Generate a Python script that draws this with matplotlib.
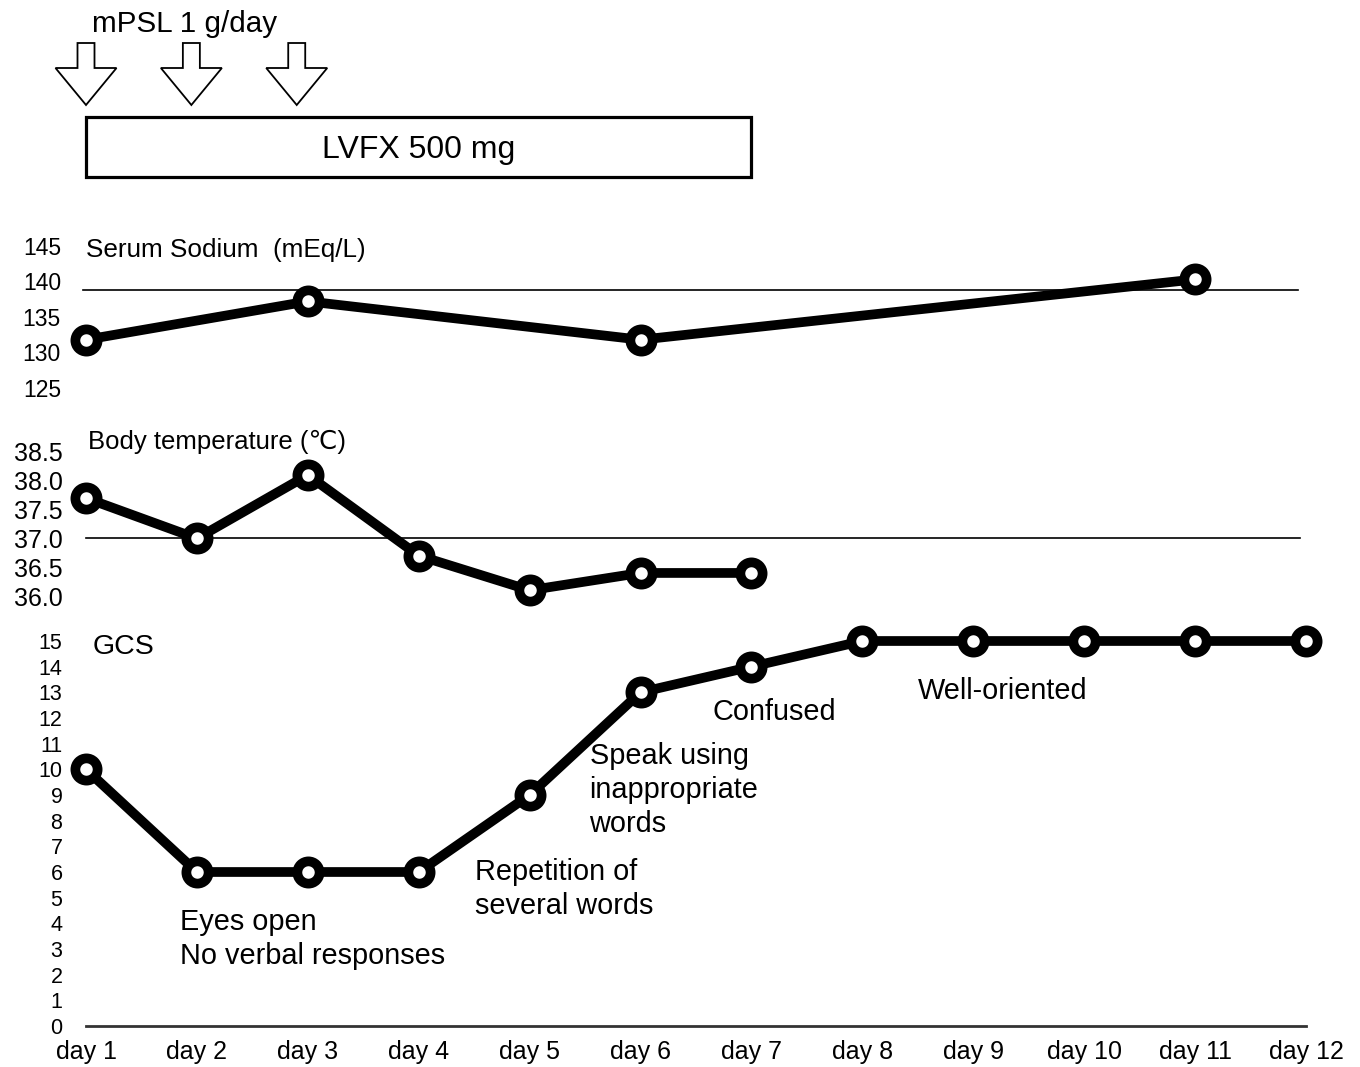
import matplotlib
matplotlib.use('Agg')
import matplotlib.pyplot as plt
from matplotlib.patches import Polygon, Rectangle

plt.rcParams['font.family'] = ['Liberation Sans', 'DejaVu Sans']

# data
day_labels = ['day %d' % d for d in range(1, 13)]

sodium_days = [1, 3, 6, 11]
sodium_vals = [131.8, 137.2, 131.8, 140.3]
sodium_ref = 138.8

temp_days = [1, 2, 3, 4, 5, 6, 7]
temp_vals = [37.7, 37.0, 38.1, 36.7, 36.1, 36.4, 36.4]
temp_ref = 37.0

gcs_days = [1, 2, 3, 4, 5, 6, 7, 8, 9, 10, 11, 12]
gcs_vals = [10, 6, 6, 6, 9, 13, 14, 15, 15, 15, 15, 15]

mpsl_days = [1, 1.95, 2.9]
lvfx_start, lvfx_end = 1, 7

# (text, day, gcs value at block centre)
gcs_notes = [
    ('Eyes open\nNo verbal responses', 1.85, 3.40),
    ('Repetition of\nseveral words', 4.51, 5.34),
    ('Speak using\ninappropriate\nwords', 5.54, 9.20),
    ('Confused', 6.65, 12.25),
    ('Well-oriented', 8.50, 13.07),
]

W, H = 1360, 1067
fig = plt.figure(figsize=(W / 100, H / 100), dpi=100)

left = 86 / W
width = (1306 - 86) / W


def make_ax(ytop_px, ybot_px):
    ax = fig.add_axes([left, 1 - ybot_px / H, width, (ybot_px - ytop_px) / H])
    ax.set_xlim(1, 12)
    for s in ax.spines.values():
        s.set_visible(False)
    ax.tick_params(axis='both', length=0)
    ax.set_xticks([])
    return ax


line_kw = dict(color='black', lw=7, marker='o', ms=16, mew=7, mfc='white',
               mec='black', clip_on=False, zorder=3, solid_joinstyle='round')

# serum sodium
ax_na = make_ax(246, 388)
ax_na.set_ylim(125, 145)
ax_na.set_yticks([125, 130, 135, 140, 145])
ax_na.tick_params(axis='y', labelsize=16.5, pad=18)
ax_na.plot([0.97, 11.93], [sodium_ref, sodium_ref], color='black', lw=1.2, clip_on=False)
ax_na.plot(sodium_days, sodium_vals, **line_kw)
ax_na.text(1.0, 144.5, 'Serum Sodium  (mEq/L)', fontsize=18.8, va='center', ha='left')

# body temperature
ax_t = make_ax(452, 596)
ax_t.set_ylim(36.0, 38.5)
ax_t.set_yticks([36.0, 36.5, 37.0, 37.5, 38.0, 38.5])
ax_t.set_yticklabels(['%.1f' % v for v in [36.0, 36.5, 37.0, 37.5, 38.0, 38.5]])
ax_t.tick_params(axis='y', labelsize=18, pad=17)
ax_t.plot([1, 11.95], [temp_ref, temp_ref], color='black', lw=1.2, clip_on=False)
ax_t.plot(temp_days, temp_vals, **line_kw)
ax_t.text(1.02, 38.67, 'Body temperature (\u2103)', fontsize=18.5, va='center', ha='left')

# GCS
ax_g = make_ax(641, 1026)
ax_g.set_ylim(0, 15)
ax_g.set_yticks(range(0, 16))
ax_g.tick_params(axis='y', labelsize=15.5, pad=17)
ax_g.set_xticks(range(1, 13))
ax_g.set_xticklabels(day_labels)
ax_g.tick_params(axis='x', labelsize=18, pad=10)
ax_g.spines['bottom'].set_visible(True)
ax_g.spines['bottom'].set_color('#333333')
ax_g.spines['bottom'].set_linewidth(2)
ax_g.plot(gcs_days, gcs_vals, **line_kw)
ax_g.text(1.06, 14.75, 'GCS', fontsize=20.5, va='center', ha='left')
for txt, x, y in gcs_notes:
    ax_g.text(x, y, txt, fontsize=20.8, va='center', ha='left', linespacing=1.28)

# treatment bar on top, y in pixel units
ax_top = fig.add_axes([left, 1 - 200 / H, width, 200 / H])
ax_top.set_xlim(1, 12)
ax_top.set_ylim(200, 0)
ax_top.axis('off')

px_day = (1306 - 86) / 11
sw = 8.5 / px_day
hw = 30.5 / px_day
for d in mpsl_days:
    pts = [(d - sw, 43), (d + sw, 43), (d + sw, 68), (d + hw, 68), (d, 105),
           (d - hw, 68), (d - sw, 68)]
    ax_top.add_patch(Polygon(pts, closed=True, facecolor='white', edgecolor='black',
                             lw=1.3, clip_on=False))
ax_top.text(mpsl_days[0] + 6 / px_day, 24, 'mPSL 1 g/day', fontsize=21.3, va='center', ha='left')

ax_top.add_patch(Rectangle((lvfx_start, 117), lvfx_end - lvfx_start, 60, facecolor='white',
                           edgecolor='black', lw=2.3, clip_on=False))
ax_top.text((lvfx_start + lvfx_end) / 2, 150, 'LVFX 500 mg', fontsize=23, va='center', ha='center')

fig.savefig('out.png', dpi=100, facecolor='white')
